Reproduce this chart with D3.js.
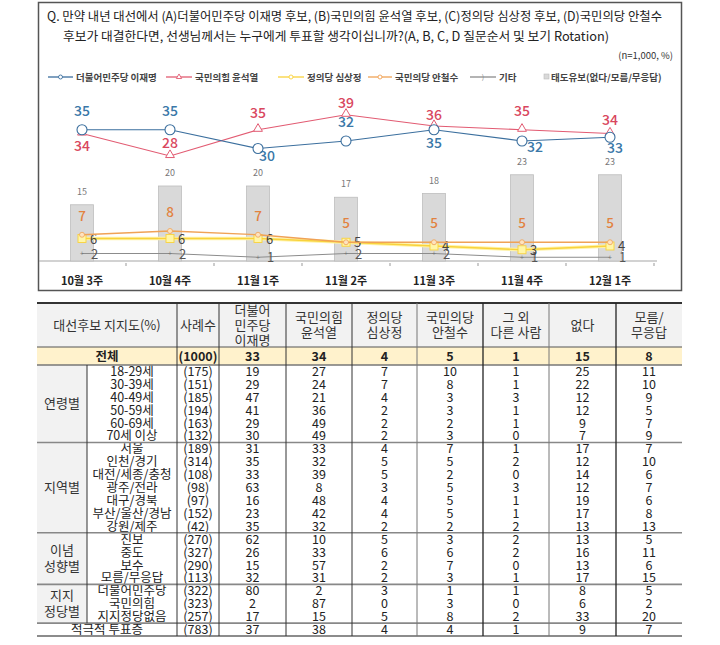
<!DOCTYPE html>
<html>
<head>
<meta charset="utf-8">
<script src="https://cdn.jsdelivr.net/npm/d3@7"></script>
<style>
  body { margin: 0; background: #fff; }
  svg { display: block; font-family: "Noto Sans CJK KR", "Noto Sans", sans-serif; }
</style>
</head>
<body>
<div id="chart"></div>
<script>
'use strict';

// --- chart data ---
var weeks = ['10월 3주', '10월 4주', '11월 1주', '11월 2주', '11월 3주', '11월 4주', '12월 1주'];
var lee = [35, 35, 30, 32, 35, 32, 33];
var yoon = [34, 28, 35, 39, 36, 35, 34];
var sim = [6, 6, 6, 5, 4, 3, 4];
var ahn = [7, 8, 7, 5, 5, 5, 5];
var other = [2, 2, 1, 2, 2, 1, 1];
var undecided = [15, 20, 20, 17, 18, 23, 23];

// --- table data ---
var headers = ['대선후보 지지도(%)', '사례수', '더불어\n민주당\n이재명', '국민의힘\n윤석열', '정의당\n심상정',
  '국민의당\n안철수', '그 외\n다른 사람', '없다', '모름/\n무응답'];
var totalN = 1000;
var totalValues = [33, 34, 4, 5, 1, 15, 8];
var groupNames = ['연령별', '지역별', '이념\n성향별', '지지\n정당별'];
var groupSizes = [6, 7, 4, 3];
var rowLabels = ['18-29세', '30-39세', '40-49세', '50-59세', '60-69세', '70세 이상',
  '서울', '인천/경기', '대전/세종/충청', '광주/전라', '대구/경북', '부산/울산/경남', '강원/제주',
  '진보', '중도', '보수', '모름/무응답',
  '더불어민주당', '국민의힘', '지지정당없음',
  '적극적 투표층'];
var rowN = [175, 151, 185, 194, 163, 132, 189, 314, 108, 98, 97, 152, 42, 270, 327, 290, 113, 322, 323, 257, 783];
var rowValues = [
  [19, 27, 7, 10, 1, 25, 11],
  [29, 24, 7, 8, 1, 22, 10],
  [47, 21, 4, 3, 3, 12, 9],
  [41, 36, 2, 3, 1, 12, 5],
  [29, 49, 2, 2, 1, 9, 7],
  [30, 49, 2, 3, 0, 7, 9],
  [31, 33, 4, 7, 1, 17, 7],
  [35, 32, 5, 5, 2, 12, 10],
  [33, 39, 5, 2, 0, 14, 6],
  [63, 8, 3, 5, 3, 12, 7],
  [16, 48, 4, 5, 1, 19, 6],
  [23, 42, 4, 5, 1, 17, 8],
  [35, 32, 2, 2, 2, 13, 13],
  [62, 10, 5, 3, 2, 13, 5],
  [26, 33, 6, 6, 2, 16, 11],
  [15, 57, 2, 7, 0, 13, 6],
  [32, 31, 2, 3, 1, 17, 15],
  [80, 2, 3, 1, 1, 8, 5],
  [2, 87, 0, 3, 0, 6, 2],
  [17, 15, 5, 8, 2, 33, 20],
  [37, 38, 4, 4, 1, 9, 7]
];

var W = 720, H = 645;
var svg = d3.select('#chart').append('svg').attr('width', W).attr('height', H);

// ================= CHART =================
var colors = {
  lee: '#3b6f9e', leeText: '#3a78a8',
  yoon: '#e25b72', yoonText: '#d9475e',
  sim: '#f9d23c', ahn: '#f0a256', ahnText: '#e2823f',
  other: '#8c8c8c', bar: '#d9d9d9', barStroke: '#bdbdbd'
};

svg.append('rect')
  .attr('x', 38.5).attr('y', 2.5).attr('width', 643).attr('height', 288)
  .attr('fill', 'none').attr('stroke', '#555').attr('stroke-width', 1.5);

svg.append('text').attr('x', 47).attr('y', 21)
  .attr('font-size', 12.5).attr('fill', '#222')
  .attr('textLength', 615).attr('lengthAdjust', 'spacingAndGlyphs')
  .text('Q. 만약 내년 대선에서 (A)더불어민주당 이재명 후보, (B)국민의힘 윤석열 후보, (C)정의당 심상정 후보, (D)국민의당 안철수');
svg.append('text').attr('x', 63).attr('y', 41)
  .attr('font-size', 12.5).attr('fill', '#222')
  .attr('textLength', 546).attr('lengthAdjust', 'spacingAndGlyphs')
  .text('후보가 대결한다면, 선생님께서는 누구에게 투표할 생각이십니까?(A, B, C, D 질문순서 및 보기 Rotation)');
svg.append('text').attr('x', 673).attr('y', 59).attr('text-anchor', 'end')
  .attr('font-size', 9.5).attr('fill', '#333').text('(n=1,000, %)');

// legend
var legendItems = [
  {x: 48, w: 25, color: colors.lee, label: '더불어민주당 이재명', marker: 'circle'},
  {x: 166, w: 26, color: colors.yoon, label: '국민의힘 윤석열', marker: 'triangle'},
  {x: 278, w: 26, color: colors.sim, label: '정의당 심상정', marker: 'circle'},
  {x: 368, w: 24, color: colors.ahn, label: '국민의당 안철수', marker: 'circle'},
  {x: 470, w: 26, color: colors.other, label: '기타', marker: 'x'}
];
var legend = svg.append('g').attr('transform', 'translate(0,77)');
legendItems.forEach(function(d) {
  legend.append('line').attr('x1', d.x).attr('x2', d.x + d.w)
    .attr('stroke', d.color).attr('stroke-width', 1.3);
  if (d.marker === 'circle') {
    legend.append('circle').attr('cx', d.x + d.w / 2).attr('r', 2)
      .attr('fill', '#fff').attr('stroke', d.color).attr('stroke-width', 0.9);
  } else if (d.marker === 'triangle') {
    legend.append('path').attr('transform', 'translate(' + (d.x + d.w / 2) + ',0)')
      .attr('d', d3.symbol(d3.symbolTriangle, 12)())
      .attr('fill', '#fff').attr('stroke', d.color).attr('stroke-width', 0.9);
  } else {
    legend.append('text').attr('x', d.x + d.w / 2).attr('y', 3).attr('text-anchor', 'middle')
      .attr('font-size', 7).attr('fill', d.color).text(')');
  }
  legend.append('text').attr('x', d.x + d.w + 3).attr('y', 3.5)
    .attr('font-size', 9.5).attr('font-weight', 'bold').attr('fill', '#444').text(d.label);
});
legend.append('rect').attr('x', 544).attr('y', -3).attr('width', 5).attr('height', 5)
  .attr('fill', colors.bar).attr('stroke', colors.barStroke).attr('stroke-width', 0.6);
legend.append('text').attr('x', 551).attr('y', 3.5)
  .attr('font-size', 9.5).attr('font-weight', 'bold').attr('fill', '#444').text('태도유보(없다/모름/무응답)');

// scales
var x = d3.scaleBand().domain(weeks).range([38, 654]);
var y = d3.scaleLinear().domain([0, 40]).range([261, 111]);
var cx = function(i) { return x(weeks[i]) + x.bandwidth() / 2; };

// axis
var axis = svg.append('g').attr('transform', 'translate(0,261)')
  .call(d3.axisBottom(x).tickSize(0).tickPadding(16));
axis.select('.domain').remove();
axis.append('line').attr('x1', 39).attr('x2', 657).attr('stroke', '#a6a6a6').attr('stroke-width', 1.2);
axis.selectAll('.tick text')
  .attr('font-family', '"Noto Sans CJK KR", sans-serif')
  .attr('font-size', 11).attr('font-weight', 'bold').attr('fill', '#222');
axis.selectAll('.sep').data(weeks.slice(1).concat(['end'])).enter().append('line')
  .attr('x1', function(d, i) { return 38 + x.step() * (i + 1); })
  .attr('x2', function(d, i) { return 38 + x.step() * (i + 1); })
  .attr('y1', 2).attr('y2', 5).attr('stroke', '#999');

// bars
var barW = 23;
svg.selectAll('.bar').data(undecided).enter().append('rect')
  .attr('x', function(d, i) { return cx(i) - barW / 2; })
  .attr('y', function(d) { return y(d); })
  .attr('width', barW)
  .attr('height', function(d) { return y(0) - y(d); })
  .attr('fill', colors.bar).attr('stroke', colors.barStroke).attr('stroke-width', 0.8);
svg.selectAll('.barlab').data(undecided).enter().append('text')
  .attr('x', function(d, i) { return cx(i); })
  .attr('y', function(d) { return y(d) - 10; })
  .attr('text-anchor', 'middle').attr('font-size', 9).attr('fill', '#777')
  .text(function(d) { return d; });

var line = d3.line().x(function(d, i) { return cx(i); }).y(function(d) { return y(d); });

function drawLine(values, color, width) {
  svg.append('path').datum(values).attr('d', line)
    .attr('fill', 'none').attr('stroke', color).attr('stroke-width', width);
}

// 기타
drawLine(other, colors.other, 1);
other.forEach(function(v, i) {
  svg.append('text').attr('x', cx(i)).attr('y', y(v) + 2.5).attr('text-anchor', 'middle')
    .attr('font-size', 7).attr('fill', '#777').text('+');
  svg.append('text').attr('x', cx(i) + 9).attr('y', y(v) + 5)
    .attr('font-size', 13).attr('fill', '#555').text(v);
});

// 정의당 심상정
drawLine(sim, '#fff3a6', 3.5);
drawLine(sim, colors.sim, 1.3);
sim.forEach(function(v, i) {
  svg.append('rect').attr('x', cx(i) - 4).attr('y', y(v) - 4).attr('width', 8).attr('height', 8)
    .attr('fill', '#fff6a8').attr('stroke', colors.sim).attr('stroke-width', 0.9);
  svg.append('text').attr('x', cx(i) + 8).attr('y', y(v) + 5)
    .attr('font-size', 13).attr('fill', '#444').text(v);
});

// 국민의당 안철수
drawLine(ahn, colors.ahn, 1.3);
ahn.forEach(function(v, i) {
  svg.append('circle').attr('cx', cx(i)).attr('cy', y(v)).attr('r', 2.5)
    .attr('fill', '#fde3c0').attr('stroke', colors.ahn).attr('stroke-width', 0.8);
  svg.append('text').attr('x', cx(i)).attr('y', y(v) - 14).attr('text-anchor', 'middle')
    .attr('font-size', 13.5).attr('font-weight', 500).attr('fill', colors.ahnText).text(v);
});

// 국민의힘 윤석열
drawLine(yoon, colors.yoon, 1.2);
yoon.forEach(function(v, i) {
  svg.append('path').attr('transform', 'translate(' + cx(i) + ',' + (y(v) - 1) + ')')
    .attr('d', d3.symbol(d3.symbolTriangle, 34)())
    .attr('fill', '#fff').attr('stroke', colors.yoon).attr('stroke-width', 1);
});

// 더불어민주당 이재명
drawLine(lee, colors.lee, 1.2);
lee.forEach(function(v, i) {
  svg.append('circle').attr('cx', cx(i)).attr('cy', y(v)).attr('r', 5)
    .attr('fill', '#fff').attr('stroke', colors.lee).attr('stroke-width', 1.1);
});

// label nudges [dx, dy to baseline] for the two main lines
var leeNudge = [[0, -14], [0, -14], [9, 12], [0, -14], [0, 18], [13, 11], [5, 16]];
var yoonNudge = [[0, 17], [0, -8], [0, -12], [0, -7], [0, -6], [0, -14], [0, -9]];
function pointLabels(values, nudge, color) {
  values.forEach(function(v, i) {
    svg.append('text').attr('x', cx(i) + nudge[i][0]).attr('y', y(v) + nudge[i][1])
      .attr('text-anchor', 'middle').attr('font-size', 14).attr('font-weight', 500)
      .attr('fill', color).text(v);
  });
}
pointLabels(lee, leeNudge, colors.leeText);
pointLabels(yoon, yoonNudge, colors.yoonText);

// ================= TABLE =================
var edges = [37, 87, 177, 219, 286, 352, 417, 483, 549, 616, 682];
var tTop = 303, hdrBottom = 347, totBottom = 365, tBottom = 636;
var rowH = (tBottom - totBottom) / rowLabels.length;
var rowY = function(i) { return totBottom + rowH * i; };
var colMid = function(c) { return (edges[c] + edges[c + 1]) / 2; };
var table = svg.append('g').attr('font-size', 12.5).attr('fill', '#222');

// backgrounds
table.append('rect').attr('x', edges[0]).attr('y', tTop).attr('width', edges[10] - edges[0])
  .attr('height', hdrBottom - tTop).attr('fill', '#f2f2f2');
table.append('rect').attr('x', edges[0]).attr('y', hdrBottom).attr('width', edges[10] - edges[0])
  .attr('height', totBottom - hdrBottom).attr('fill', '#fff2cc');
table.append('rect').attr('x', edges[0]).attr('y', totBottom).attr('width', edges[1] - edges[0])
  .attr('height', rowY(rowLabels.length - 1) - totBottom).attr('fill', '#f2f2f2');

// multi-line centred text
function multiline(g, str, xm, ym, lh, attrs) {
  var lines = str.split('\n');
  var t = g.append('text').attr('text-anchor', 'middle');
  Object.keys(attrs || {}).forEach(function(k) { t.attr(k, attrs[k]); });
  lines.forEach(function(s, k) {
    t.append('tspan').attr('x', xm)
      .attr('y', ym + (k - (lines.length - 1) / 2) * lh)
      .attr('dy', '0.36em').text(s);
  });
}
var hdrMid = (tTop + hdrBottom) / 2;
multiline(table, headers[0], (edges[0] + edges[2]) / 2, hdrMid, 15, {'fill': '#333', 'font-size': 13});
headers.slice(1).forEach(function(h, k) {
  multiline(table, h, colMid(k + 2), hdrMid, 15, {'fill': '#333', 'font-size': 13});
});

// total row
var totMid = (hdrBottom + totBottom) / 2;
multiline(table, '전체', (edges[0] + edges[2]) / 2, totMid, 0, {'font-weight': 'bold'});
multiline(table, '(' + totalN + ')', colMid(2), totMid, 0, {'font-weight': 'bold'});
totalValues.forEach(function(v, k) {
  multiline(table, String(v), colMid(k + 3), totMid, 0, {'font-weight': 'bold'});
});

// body rows
rowLabels.forEach(function(lab, i) {
  var ym = rowY(i) + rowH / 2;
  var last = i === rowLabels.length - 1;
  multiline(table, lab, last ? (edges[0] + edges[2]) / 2 : colMid(1), ym, 0, {});
  multiline(table, '(' + rowN[i] + ')', colMid(2), ym, 0, {});
  rowValues[i].forEach(function(v, k) {
    multiline(table, String(v), colMid(k + 3), ym, 0, {});
  });
});

// group labels + separators
var start = 0;
var seps = [];
groupSizes.forEach(function(n, g) {
  var ym = rowY(start) + rowH * n / 2;
  multiline(table, groupNames[g], colMid(0), ym, 16, {'fill': '#333', 'font-size': 13});
  start += n;
  seps.push(rowY(start));
});

// horizontal lines
var hl = function(yy, color, w) {
  table.append('line').attr('x1', edges[0]).attr('x2', edges[10]).attr('y1', yy).attr('y2', yy)
    .attr('stroke', color).attr('stroke-width', w);
};
hl(tTop, '#333', 2);
hl(hdrBottom, '#555', 1);
hl(totBottom, '#777', 1.3);
seps.forEach(function(s) { hl(s, '#888', 1.6); });
hl(tBottom, '#666', 1.6);

// vertical lines
table.append('line').attr('x1', edges[1]).attr('x2', edges[1])
  .attr('y1', totBottom).attr('y2', rowY(rowLabels.length - 1)).attr('stroke', '#333').attr('stroke-width', 1);
var vColors = {2: '#333', 3: '#333', 4: '#333', 5: '#333', 6: '#777', 7: '#222', 8: '#777', 9: '#222'};
[2, 3, 4, 5, 6, 7, 8, 9].forEach(function(c) {
  table.append('line').attr('x1', edges[c]).attr('x2', edges[c])
    .attr('y1', tTop).attr('y2', tBottom).attr('stroke', vColors[c])
    .attr('stroke-width', (c === 7 || c === 9) ? 1.3 : 1);
});
</script>
</body>
</html>
